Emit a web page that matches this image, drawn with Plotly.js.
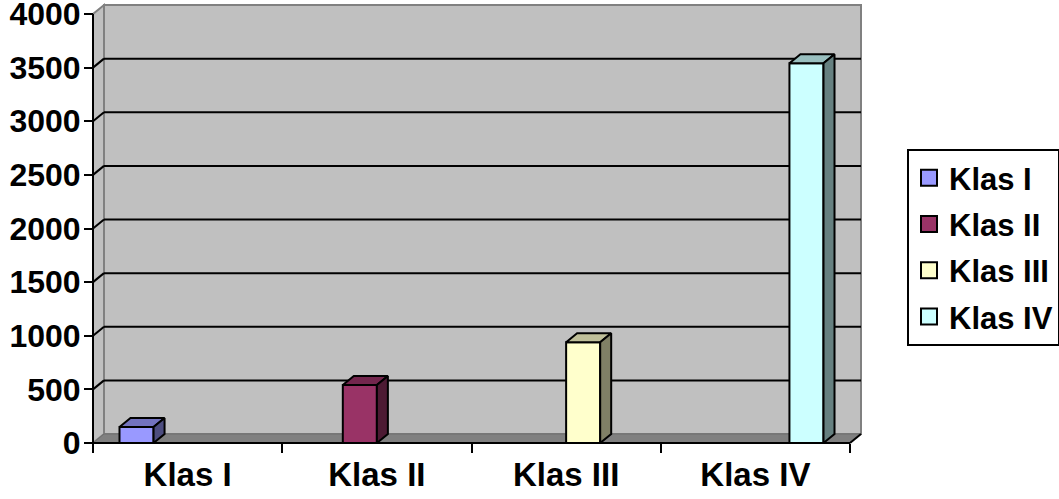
<!DOCTYPE html>
<html><head><meta charset="utf-8">
<script src="https://cdn.plot.ly/plotly-3.0.1.min.js"></script>
<style>html,body{margin:0;padding:0;background:#fff}#chart{width:1059px;height:499px}</style>
</head><body><div id="chart"></div>
<script>
// Data
const categories = ['Klas I', 'Klas II', 'Klas III', 'Klas IV'];
const values = [150, 540, 940, 3540];
const yTicks = [0, 500, 1000, 1500, 2000, 2500, 3000, 3500, 4000];

// Face colours per series: front, top (75%), side (50%)
const frontColors = ['#9999FF', '#993366', '#FFFFCC', '#CCFFFF'];
const topColors   = ['#7373BF', '#73264D', '#BFBF99', '#99BFBF'];
const sideColors  = ['#4D4D80', '#4D1A33', '#808066', '#668080'];

// Geometry (pixels): front plane of the 3D box and plot area
const W = 1059, H = 499;
const FL = 93, FR = 850, FB = 443, FT = 14;
const DX = 11, DY = 9;                 // depth offset of the box
const PL = 88, PR = 865, PT = 2, PB = 447;
const YMAX = yTicks[yTicks.length - 1];
const nCat = categories.length;
const CW = (FR - FL) / nCat;            // px per category
const YS = (FB - FT) / YMAX;            // px per value unit
const xd = px => -0.5 + (px - FL) / CW;
const yd = py => (FB - py) / YS;
const dxu = DX / CW, dyu = DY / YS;
const GROUP_W = 0.72, BAR_W = GROUP_W / nCat;

const FAMILY = 'Liberation Sans, Arial, sans-serif';
const X_FONT = {family: FAMILY, size: 33, weight: 'bold', color: '#000'};
const Y_FONT = {family: FAMILY, size: 32, weight: 'bold', color: '#000'};
const LEGEND_FONT = {family: FAMILY, size: 31, weight: 'bold', color: '#000'};
const EDGE = {color: '#000', width: 2};

const traces = [];
categories.forEach((name, k) => {
  const v = values[k];
  const off = -GROUP_W / 2 + k * BAR_W;
  const xl = k + off, xr = xl + BAR_W;
  traces.push({
    type: 'bar', x: [k], y: [v], width: [BAR_W], offset: [off],
    marker: {color: frontColors[k], line: EDGE},
    showlegend: false, hoverinfo: 'skip'
  });
  // top face
  traces.push({
    type: 'scatter', mode: 'lines', fill: 'toself', fillcolor: topColors[k],
    x: [xl, xr, xr + dxu, xl + dxu, xl],
    y: [v, v, v + dyu, v + dyu, v],
    line: EDGE, showlegend: false, hoverinfo: 'skip'
  });
  // side face
  traces.push({
    type: 'scatter', mode: 'lines', fill: 'toself', fillcolor: sideColors[k],
    x: [xr, xr + dxu, xr + dxu, xr, xr],
    y: [0, dyu, v + dyu, v, 0],
    line: EDGE, showlegend: false, hoverinfo: 'skip'
  });
});
// legend entries
categories.forEach((name, k) => {
  traces.push({
    type: 'scatter', mode: 'markers', x: [null], y: [null], name: name,
    legendgroup: 'g' + k,
    marker: {symbol: 'square', size: 16, color: frontColors[k], line: EDGE}
  });
});

const x0 = -0.5, x1 = nCat - 0.5;
const WALL = '#C0C0C0', WALL_EDGE = '#808080';
const shapes = [
  // side wall
  {type: 'path', layer: 'below', xref: 'x', yref: 'y',
   path: `M${x0},0 L${x0},${YMAX} L${x0 + dxu},${YMAX + dyu} L${x0 + dxu},${dyu} Z`,
   fillcolor: WALL, line: {color: WALL_EDGE, width: 2}},
  // back wall
  {type: 'rect', layer: 'below', xref: 'x', yref: 'y',
   x0: x0 + dxu, x1: x1 + dxu, y0: dyu, y1: YMAX + dyu,
   fillcolor: WALL, line: {color: WALL_EDGE, width: 2}},
  // floor
  {type: 'path', layer: 'below', xref: 'x', yref: 'y',
   path: `M${x0},0 L${x1},0 L${x1 + dxu},${dyu} L${x0 + dxu},${dyu} Z`,
   fillcolor: '#808080', line: {color: '#6E6E6E', width: 1}},
  {type: 'line', layer: 'below', xref: 'x', yref: 'y',
   x0: x1, y0: 0, x1: x1 + dxu, y1: dyu, line: EDGE}
];
yTicks.slice(1, -1).forEach(v => {
  shapes.push({type: 'line', layer: 'below', xref: 'x', yref: 'y',
    x0: x0 + dxu, x1: x1 + dxu, y0: v + dyu, y1: v + dyu, line: EDGE});
  shapes.push({type: 'line', layer: 'below', xref: 'x', yref: 'y',
    x0: x0, x1: x0 + dxu, y0: v, y1: v + dyu, line: EDGE});
});
// axis lines on the front plane
shapes.push({type: 'line', layer: 'below', xref: 'x', yref: 'y', x0: x0, x1: x1, y0: 0, y1: 0, line: EDGE});
shapes.push({type: 'line', layer: 'below', xref: 'x', yref: 'y', x0: x0, x1: x0, y0: 0, y1: YMAX, line: EDGE});

const boundaries = [];
for (let i = 0; i <= nCat; i++) boundaries.push(i - 0.5);

const layout = {
  width: W, height: H,
  margin: {l: PL, r: W - PR, t: PT, b: H - PB},
  paper_bgcolor: '#fff', plot_bgcolor: 'rgba(0,0,0,0)',
  font: X_FONT,
  hovermode: false,
  barmode: 'overlay',
  xaxis: {
    range: [xd(PL), xd(PR)], anchor: 'free', position: (PB - FB) / (PB - PT),
    tickvals: categories.map((c, i) => i), ticktext: categories,
    ticks: '', showgrid: false, zeroline: false, showline: false,
    tickfont: X_FONT, ticklabelstandoff: 9, ticklabeloverflow: 'allow',
    minor: {tickvals: boundaries, ticks: 'outside', ticklen: 9, tickwidth: 2, tickcolor: '#000', showgrid: false}
  },
  yaxis: {
    range: [yd(PB), yd(PT)], anchor: 'free', position: (FL - PL) / (PR - PL),
    tickvals: yTicks, ticks: 'outside', ticklen: 9, tickwidth: 2, tickcolor: '#000',
    showgrid: false, zeroline: false, showline: false, tickfont: Y_FONT,
    ticklabelstandoff: -3, ticklabeloverflow: 'allow'
  },
  shapes: shapes,
  showlegend: true,
  legend: {
    xref: 'container', yref: 'container', x: 907 / W, y: 1 - 149 / H,
    xanchor: 'left', yanchor: 'top',
    bgcolor: '#fff', bordercolor: '#000', borderwidth: 2,
    font: LEGEND_FONT, tracegroupgap: 3, itemsizing: 'trace'
  }
};

Plotly.newPlot('chart', traces, layout, {displayModeBar: false, staticPlot: true});
</script>
</body></html>
